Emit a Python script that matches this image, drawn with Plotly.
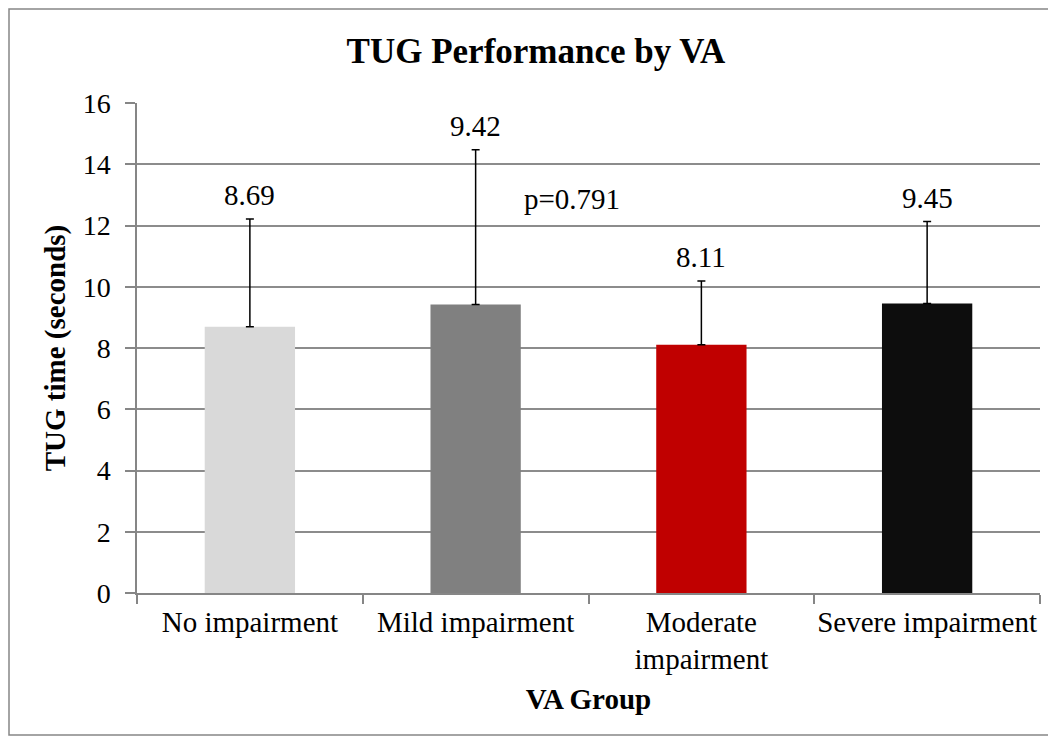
import plotly.graph_objects as go

categories = ["No impairment", "Mild impairment", "Moderate<br>impairment", "Severe impairment"]
means = [8.69, 9.42, 8.11, 9.45]
sd_plus = [3.52, 5.05, 2.08, 2.68]
bar_colors = ["#d9d9d9", "#808080", "#c00000", "#0d0d0d"]
value_labels = ["8.69", "9.42", "8.11", "9.45"]
p_text = "p=0.791"
p_y = 12.85

FONT = "Liberation Serif, Times New Roman, serif"
FS = 29

fig = go.Figure()
fig.add_trace(go.Bar(
    x=categories, y=means,
    marker=dict(color=bar_colors, line=dict(width=0)),
    error_y=dict(type="data", symmetric=False, array=sd_plus,
                 arrayminus=[0] * len(means), color="black", thickness=1.5, width=4),
    width=0.4,
    showlegend=False,
    hoverinfo="skip",
))

for c, m, s, t in zip(categories, means, sd_plus, value_labels):
    fig.add_annotation(x=c, y=m + s, text=t, showarrow=False, yanchor="bottom",
                       yshift=6, font=dict(family=FONT, size=FS, color="black"))

# page offset of 8px (body margin) is compensated in the figure layout
W, H = 1048, 732
L, R, T, B = 129, 16, 95, 147
pw, ph = W - L - R, H - T - B

fig.add_annotation(x=(572 - 8 - L) / pw, xref="paper", y=p_y, yref="y", text=p_text,
                   showarrow=False, font=dict(family=FONT, size=FS, color="black"))

# outer chart border
fig.add_shape(type="rect", xref="paper", yref="paper",
              x0=(1 - L) / pw, x1=(1042 - L) / pw,
              y0=(H - B - 727) / ph, y1=(H - B - 1) / ph,
              line=dict(color="#868686", width=1.5), fillcolor="rgba(0,0,0,0)", layer="below")

fig.update_layout(
    width=W, height=H,
    margin=dict(l=L, r=R, t=T, b=B, autoexpand=False),
    paper_bgcolor="white", plot_bgcolor="white",
    font=dict(family=FONT, size=FS, color="black"),
    title=dict(text="<b>TUG Performance by VA</b>", x=528 / W, xanchor="center",
               y=1 - 43 / H, yanchor="middle", font=dict(family=FONT, size=35, color="black")),
    xaxis=dict(
        showline=True, linecolor="#868686", linewidth=1.5, automargin=False, tickangle=0,
        ticks="outside", tickson="boundaries", ticklen=9, tickcolor="#868686", tickwidth=1.5,
        showgrid=False, ticklabelstandoff=2,
        tickfont=dict(family=FONT, size=FS, color="black"),
        title=dict(text="<b>VA Group</b>", font=dict(family=FONT, size=FS, color="black"), standoff=14),
    ),
    yaxis=dict(
        range=[0, 16], dtick=2, showline=True, linecolor="#868686", linewidth=1.5, automargin=False,
        ticks="outside", ticklen=10, tickcolor="#868686", tickwidth=1.5, ticklabelstandoff=9,
        showgrid=True, gridcolor="#8c8c8c", gridwidth=1.5, zeroline=False,
        tickfont=dict(family=FONT, size=28, color="black"),
        title=dict(text="<b>TUG time (seconds)</b>", font=dict(family=FONT, size=FS, color="black"), standoff=9),
    ),
    bargap=0.6,
)

fig.write_html("out.html")
